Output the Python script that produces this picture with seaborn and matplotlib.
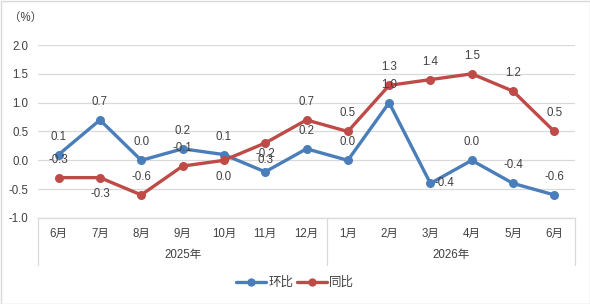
import numpy as np
import pandas as pd
import matplotlib
matplotlib.use("Agg")
import matplotlib.pyplot as plt
import seaborn as sns
from matplotlib.lines import Line2D

months = ["6月", "7月", "8月", "9月", "10月", "11月", "12月", "1月", "2月", "3月", "4月", "5月", "6月"]
years = ["2025年", "2026年"]
year_sizes = [7, 6]
hb = [0.1, 0.7, 0.0, 0.2, 0.1, -0.2, 0.2, 0.0, 1.0, -0.4, 0.0, -0.4, -0.6]
tb = [-0.3, -0.3, -0.6, -0.1, 0.0, 0.3, 0.7, 0.5, 1.3, 1.4, 1.5, 1.2, 0.5]
series = ["环比", "同比"]

# label placement per point: 'a' above, 'b' below, 'r' right
hb_pos = ["a"] * 13
hb_pos[9] = "r"
tb_pos = ["a"] * 13
tb_pos[1] = "b"
tb_pos[4] = "b"
tb_pos[5] = "b"

sns.set_theme(style="white")
plt.rcParams["font.family"] = ["Liberation Sans", "Noto Sans CJK SC", "DejaVu Sans"]

FS = 8.3
TXT = "#404040"

idx = np.arange(len(months))
df = pd.DataFrame({
    "pos": np.concatenate([idx, idx]),
    "value": hb + tb,
    "series": [series[0]] * len(hb) + [series[1]] * len(tb),
})

colors = {"环比": "#4A7EBB", "同比": "#BE4B48"}

fig = plt.figure(figsize=(5.9, 3.04), dpi=100)
ax = fig.add_axes([38 / 590, 1 - 218 / 304, (575 - 38) / 590, (218 - 45) / 304])

sns.lineplot(data=df, x="pos", y="value", hue="series", palette=colors, ax=ax,
             marker="o", markersize=6.5, markeredgewidth=0, linewidth=2.4,
             legend=False)

ax.set_xlim(-0.5, len(months) - 0.5)
ax.set_ylim(-1.0, 2.0)
yt = np.arange(-1.0, 2.01, 0.5)
ax.set_yticks(yt)
ax.set_yticklabels([f"{v:.1f}" for v in yt], fontsize=FS, color=TXT)
ax.tick_params(axis="y", length=0, pad=7)
ax.set_xticks([])
ax.set_xlabel("")
ax.set_ylabel("")
ax.grid(axis="y", color="#D9D9D9", linewidth=0.9)
ax.set_axisbelow(True)
for s in ["left", "right", "top"]:
    ax.spines[s].set_visible(False)
ax.spines["bottom"].set_color("#D9D9D9")
ax.spines["bottom"].set_linewidth(0.9)

def label(vals, pos):
    for i, (v, p) in enumerate(zip(vals, pos)):
        if p == "a":
            off, ha = (0, 13), "center"
        elif p == "b":
            off, ha = (0, -12), "center"
        else:
            off, ha = (3, 0), "left"
        ax.annotate(f"{v:.1f}", (i, v), xytext=off, textcoords="offset points",
                    ha=ha, va="center", fontsize=FS, color=TXT)

label(hb, hb_pos)
label(tb, tb_pos)

# category axis below
trans = ax.get_xaxis_transform()
for i, m in enumerate(months):
    ax.text(i, -0.09, m, transform=trans, ha="center", va="center", fontsize=FS, color=TXT)
bounds = np.concatenate([[0], np.cumsum(year_sizes)]) - 0.5
for b in bounds:
    ax.plot([b, b], [0, -0.27], transform=trans, color="#D9D9D9", linewidth=0.9, clip_on=False)
for k, y in enumerate(years):
    c = (bounds[k] + bounds[k + 1]) / 2
    ax.text(c, -0.215, y, transform=trans, ha="center", va="center", fontsize=FS, color=TXT)

fig.text(9 / 590, 1 - 18 / 304, "（%）", ha="left", va="center", fontsize=FS, color=TXT)

handles = [Line2D([], [], color=colors[s], marker="o", markersize=6, linewidth=2.4, markeredgewidth=0) for s in series]
fig.legend(handles, series, loc="center", bbox_to_anchor=(0.5, 1 - 283 / 304), ncol=2, frameon=False,
           fontsize=9, handlelength=2.4, columnspacing=0.3, handletextpad=0.2, labelcolor=TXT)

fig.patches.append(plt.Rectangle((0.5 / 590, 0.5 / 304), 1 - 1 / 590, 1 - 1 / 304, transform=fig.transFigure,
                                 fill=False, edgecolor="#D9D9D9", linewidth=1))

fig.savefig("out.png", dpi=100)
